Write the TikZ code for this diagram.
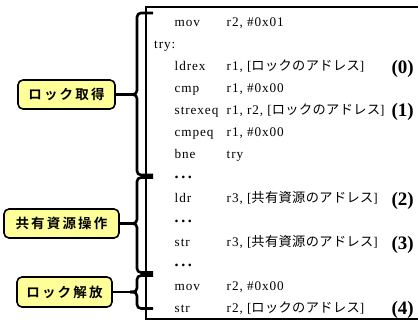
\documentclass[tikz,border=0pt]{standalone}
\usepackage{fontspec}
\setmainfont{Liberation Serif}[LetterSpace=7]
\newfontfamily\jp{Noto Sans CJK JP}[LetterSpace=3]
\newfontfamily\jpb{Noto Sans CJK JP Bold}[LetterSpace=16]
\newfontfamily\numf{Liberation Serif}
\definecolor{labfill}{RGB}{255,255,153}
\tikzset{
  code/.style={anchor=base west, inner sep=0pt, font=\fontsize{13.2}{13}\selectfont},
  num/.style={anchor=base east, inner sep=0pt, font=\fontsize{19}{19}\numf\bfseries},
  lab/.style={draw=black, line width=1.6pt, fill=labfill, rounded corners=5pt, inner sep=0pt, font=\fontsize{13.5}{13.5}\jpb},
  bracestyle/.style={line width=2.6pt, rounded corners=4pt},
  stub/.style={line width=2.6pt},
  frame/.style={line width=1.8pt}
}
\newcommand{\J}[1]{{\jp #1}}
\newcommand{\Dots}{{\fontsize{16}{16}\selectfont\textbf{.\hspace{2.6pt}.\hspace{2.6pt}.}}}
\begin{document}
\begin{tikzpicture}[x=1pt,y=-1pt]
\useasboundingbox (0,0) rectangle (418,322);
% frame
\draw[frame] (418,7) -- (146,7) -- (146,319) -- (418,319);
% code rows (centres at 22+22k)
\def\mx{174.5}\def\ox{226.5}
\node[code] (m0) at (\mx,26.5) {mov};   \node[code] (o0) at (\ox,26.5) {r2, \#0x01};
\node[code] (t1) at (154,48.5) {try:};
\node[code] (m2) at (\mx,70.5) {ldrex}; \node[code] (o2) at (\ox,70.5) {r1, [\J{ロックのアドレス}]};
\node[code] (m3) at (\mx,92.5) {cmp};   \node[code] (o3) at (\ox,92.5) {r1, \#0x00};
\node[code] (m4) at (\mx,114.5) {strexeq}; \node[code] (o4) at (\ox,114.5) {r1, r2, [\J{ロックのアドレス}]};
\node[code] (m5) at (\mx,136.5) {cmpeq}; \node[code] (o5) at (\ox,136.5) {r1, \#0x00};
\node[code] (m6) at (\mx,158.5) {bne};   \node[code] (o6) at (\ox,158.5) {try};
\node[code] (d7) at (\mx,178.5) {\Dots};
\node[code] (m8) at (\mx,202.5) {ldr};   \node[code] (o8) at (\ox,202.5) {r3, [\J{共有資源のアドレス}]};
\node[code] (d9) at (\mx,222.5) {\Dots};
\node[code] (m10) at (\mx,246.5) {str};  \node[code] (o10) at (\ox,246.5) {r3, [\J{共有資源のアドレス}]};
\node[code] (d11) at (\mx,266.5) {\Dots};
\node[code] (m12) at (\mx,290.5) {mov};  \node[code] (o12) at (\ox,290.5) {r2, \#0x00};
\node[code] (m13) at (\mx,312.5) {str};  \node[code] (o13) at (\ox,312.5) {r2, [\J{ロックのアドレス}]};
% numbers
\node[num] (n0) at (414,73) {(0)};
\node[num] (n1) at (414,116) {(1)};
\node[num] (n2) at (414,205) {(2)};
\node[num] (n3) at (414,249) {(3)};
\node[num] (n4) at (414,314) {(4)};
% labels
\node[lab, minimum width=97pt, minimum height=29pt] (L1) at (66.5,94.5) {ロック取得};
\node[lab, minimum width=115pt, minimum height=29pt] (L2) at (61.5,223.5) {共有資源操作};
\node[lab, minimum width=95pt, minimum height=30pt] (L3) at (64.5,292) {ロック解放};
% braces
\coordinate (b1) at (130,94.5);
\coordinate (b2) at (130,223.5);
\coordinate (b3) at (130,292);
\draw[bracestyle] (153,13) -- (137,13) -- (137,94.5) -- (b1);
\draw[bracestyle] (153,175) -- (137,175) -- (137,94.5) -- (b1);
\draw[bracestyle] (153,177.5) -- (137,177.5) -- (137,223.5) -- (b2);
\draw[bracestyle] (153,272.5) -- (137,272.5) -- (137,223.5) -- (b2);
\draw[bracestyle] (153,275.5) -- (137,275.5) -- (137,292) -- (b3);
\draw[bracestyle] (153,308.5) -- (137,308.5) -- (137,292) -- (b3);
\draw[stub] (L1.east) -- (b1);
\draw[stub] (L2.east) -- (b2);
\draw[stub] (L3.east) -- (b3);
\end{tikzpicture}
\end{document}
